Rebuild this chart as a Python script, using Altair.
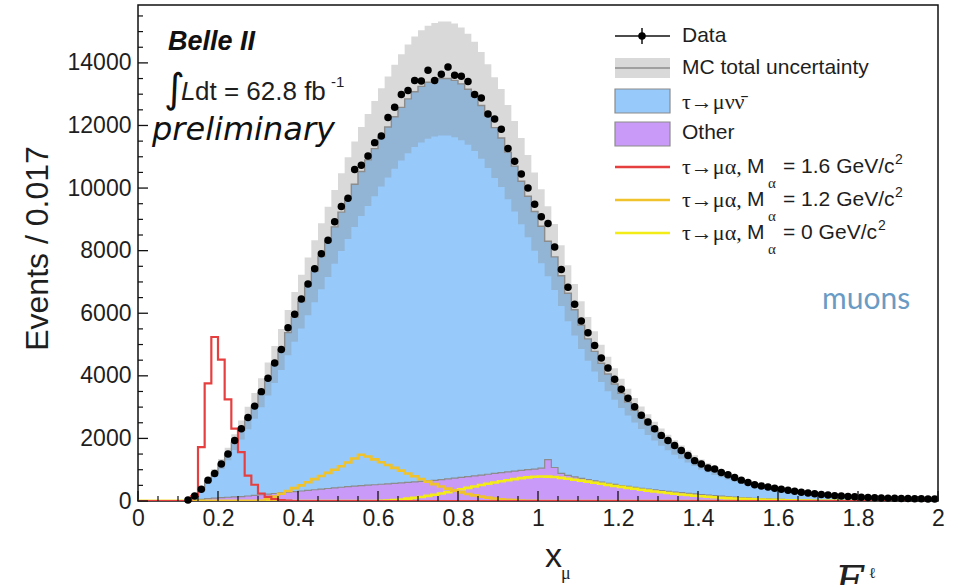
import altair as alt
import pandas as pd

# ---------------- data ----------------
N_BINS = 120            # 0 .. 2 in bins of 1/60 (~0.017)
BIN_W = 1.0 / 60.0

# Data points, bins 7..119
data_first = 7
data_counts = [30, 160, 377, 667, 880, 1183, 1505, 1935, 2312, 2667,
               3032, 3495, 3925, 4409, 4838, 5538, 5968, 6452, 6935, 7419,
               7903, 8333, 8925, 9409, 9677, 10591, 10731, 11022, 11452, 11667,
               12258, 12580, 12990, 13119, 13441, 13419, 13764, 13441, 13635, 13871,
               13602, 13570, 13409, 12990, 12881, 12365, 12204, 11881, 11268, 10860,
               10452, 10000, 9484, 9086, 8871, 8119, 7398, 6828, 6290, 5753,
               5376, 4968, 4570, 4247, 3892, 3570, 3280, 3011, 2742, 2527,
               2312, 2097, 1935, 1774, 1613, 1452, 1290, 1183, 1054, 1022,
               914, 839, 753, 667, 591, 516, 480, 445, 410, 375,
               340, 310, 280, 255, 232, 210, 190, 172, 158, 145,
               133, 122, 113, 105, 98, 92, 86, 81, 77, 73,
               70, 67, 64]

# MC total (tau->mu nu nu + other), bins 7..119
mc_first = 7
mc_total = [20, 150, 360, 640, 900, 1180, 1500, 1880, 2270, 2650,
            3040, 3460, 3900, 4360, 4840, 5380, 5880, 6370, 6860, 7340,
            7820, 8280, 8760, 9230, 9680, 10120, 10530, 10900, 11260, 11620,
            11950, 12280, 12580, 12850, 13080, 13250, 13380, 13460, 13500, 13500,
            13440, 13330, 13160, 12930, 12640, 12300, 11930, 11600, 11150, 10700,
            10220, 9740, 9250, 8780, 8300, 7800, 7200, 6640, 6110, 5620,
            5180, 4780, 4400, 4060, 3740, 3440, 3160, 2900, 2660, 2440,
            2230, 2040, 1870, 1710, 1560, 1420, 1290, 1170, 1060, 960,
            870, 790, 715, 645, 580, 520, 470, 425, 385, 350,
            315, 285, 258, 234, 212, 193, 176, 161, 147, 135,
            124, 115, 107, 100, 94, 88, 83, 79, 75, 72,
            69, 66, 64]

# MC total uncertainty (half width), bins 7..119
mc_unc = [3, 20, 50, 86, 120, 160, 200, 250, 305, 360,
          410, 465, 525, 590, 655, 725, 795, 860, 925, 990,
          1055, 1120, 1180, 1245, 1305, 1365, 1420, 1470, 1520, 1570,
          1615, 1660, 1700, 1735, 1765, 1790, 1805, 1815, 1820, 1820,
          1815, 1800, 1775, 1745, 1705, 1660, 1610, 1565, 1505, 1445,
          1380, 1315, 1250, 1185, 1120, 1055, 970, 895, 825, 760,
          700, 645, 595, 550, 505, 465, 425, 390, 360, 330,
          300, 275, 250, 230, 210, 190, 175, 160, 145, 130,
          115, 105, 95, 85, 80, 70, 65, 55, 50, 45,
          43, 38, 35, 32, 29, 26, 24, 22, 20, 18,
          17, 16, 14, 13, 13, 12, 11, 11, 10, 10,
          9, 9, 9]

# Other backgrounds, bins 8..111
other_first = 8
other = [20, 50, 75, 95, 110, 120, 130, 140, 160, 180,
         200, 220, 240, 260, 280, 300, 320, 340, 360, 380,
         400, 420, 440, 460, 475, 490, 505, 520, 535, 550,
         565, 580, 595, 610, 625, 640, 660, 680, 705, 730,
         755, 780, 805, 830, 855, 880, 905, 930, 955, 980,
         1000, 1020, 1050, 1320, 1070, 880, 820, 770, 720, 680,
         640, 600, 565, 530, 495, 465, 435, 405, 380, 355,
         330, 305, 285, 265, 245, 225, 205, 185, 170, 155,
         140, 125, 112, 100, 88, 77, 67, 58, 50, 42,
         36, 30, 25, 20, 16, 12, 9, 7, 5, 4,
         3, 2, 2, 1]

# Signals tau -> mu alpha
sig16_first = 8   # M = 1.6 GeV/c2
sig16 = [160, 1720, 3760, 5240, 4520, 3250, 2310, 1560, 810, 520,
         240, 130, 60, 30, 10]
sig12_first = 18  # M = 1.2 GeV/c2
sig12 = [10, 60, 140, 230, 320, 410, 500, 600, 700, 800,
         900, 1000, 1110, 1230, 1360, 1480, 1420, 1330, 1240, 1150,
         1060, 970, 880, 790, 700, 620, 540, 465, 395, 330,
         275, 225, 180, 140, 108, 80, 58, 40, 27, 17,
         10, 5]
sig0_first = 36   # M = 0 GeV/c2
sig0 = [5, 15, 30, 50, 75, 100, 130, 165, 200, 240,
        285, 330, 375, 420, 465, 510, 550, 590, 630, 665,
        700, 730, 755, 775, 785, 780, 765, 740, 710, 680,
        650, 620, 585, 550, 515, 480, 450, 420, 390, 360,
        330, 305, 280, 255, 230, 210, 190, 170, 152, 135,
        120, 106, 93, 82, 72, 63, 55, 48, 42, 36,
        30, 25, 20, 16, 12, 9, 7, 5, 3]

x_major = [0, 0.2, 0.4, 0.6, 0.8, 1, 1.2, 1.4, 1.6, 1.8, 2]
y_major = [0, 2000, 4000, 6000, 8000, 10000, 12000, 14000]

# ---------------- tables ----------------
def full(first, vals):
    out = [0] * N_BINS
    for k, v in enumerate(vals):
        out[first + k] = v
    return out

def ext(a):
    return a + [a[-1]]

mc_f = full(mc_first, mc_total)
unc_f = full(mc_first, mc_unc)
hist = pd.DataFrame({
    "edge": [i * BIN_W for i in range(N_BINS + 1)],
    "mc": ext(mc_f),
    "lo": ext([m - u for m, u in zip(mc_f, unc_f)]),
    "hi": ext([m + u for m, u in zip(mc_f, unc_f)]),
    "other": ext(full(other_first, other)),
    "s16": ext(full(sig16_first, sig16)),
    "s12": ext(full(sig12_first, sig12)),
    "s0": ext(full(sig0_first, sig0)),
})
pts = pd.DataFrame({
    "center": [(data_first + k + 0.5) * BIN_W for k in range(len(data_counts))],
    "count": data_counts,
})
x_minor = [round(k * 0.05, 2) for k in range(41) if k % 4]
y_minor = [k * 500 for k in range(32) if k % 4]
one = pd.DataFrame({"k": [0]})

# ---------------- style ----------------
SANS = "Liberation Sans"
SERIF = "Liberation Serif"
TXT = "#1e1e1e"
BLUE = "#97c9fa"
PURPLE = "#c99af7"
GRAY = "#8c8c8c"
HATCH = "#8a8a8a"
HATCH_OP = 0.32
RED = "#e5403f"
ORANGE = "#f0c22b"
YELLOW = "#f4ec16"
W, H = 800, 496

xs = alt.Scale(domain=[0, 2], nice=False, zero=False)
ys = alt.Scale(domain=[0, 15850], nice=False)
xax = alt.Axis(values=x_major, format="~g", ticks=False, domain=False, grid=False,
               labelFontSize=23, labelFont=SANS, labelColor=TXT, labelPadding=6,
               labelFlush=False, labelOverlap=False, title=None)
yax = alt.Axis(values=y_major, format="d", ticks=False, domain=False, grid=False,
               labelFontSize=23, labelFont=SANS, labelColor=TXT, labelPadding=7,
               labelFlush=False, labelOverlap=False,
               title="Events / 0.017", titleFont=SANS, titleFontSize=32,
               titleFontWeight="normal", titleColor=TXT, titleAngle=270,
               titleX=-101, titleY=243, titleAlign="center", titleBaseline="middle")

def X(f):
    return alt.X(f"{f}:Q", scale=xs, axis=xax)

def Y(f):
    return alt.Y(f"{f}:Q", scale=ys, axis=yax)

base = alt.Chart(hist)
blue = base.mark_area(color=BLUE, interpolate="step-after", clip=True).encode(x=X("edge"), y=Y("mc"))
purple = base.mark_area(color=PURPLE, interpolate="step-after", clip=True).encode(x=X("edge"), y=Y("other"))
band = base.mark_area(color=HATCH, opacity=HATCH_OP, interpolate="step-after", clip=True).encode(
    x=X("edge"), y=Y("lo"), y2=alt.Y2("hi"))
mc_line = base.mark_line(color=GRAY, strokeWidth=1.4, interpolate="step-after", clip=True).encode(x=X("edge"), y=Y("mc"))
oth_line = base.mark_line(color=GRAY, strokeWidth=1.2, interpolate="step-after", clip=True).encode(x=X("edge"), y=Y("other"))
l0 = base.mark_line(color=YELLOW, strokeWidth=2.6, interpolate="step-after", clip=True).encode(x=X("edge"), y=Y("s0"))
l12 = base.mark_line(color=ORANGE, strokeWidth=2.6, interpolate="step-after", clip=True).encode(x=X("edge"), y=Y("s12"))
l16 = base.mark_line(color=RED, strokeWidth=2.2, interpolate="step-after", clip=True).encode(x=X("edge"), y=Y("s16"))
dots = alt.Chart(pts).mark_circle(color="black", opacity=1, size=56).encode(x=X("center"), y=Y("count"))

xt_maj = alt.Chart(pd.DataFrame({"v": x_major})).mark_rule(color="#111", strokeWidth=1.3).encode(
    x=X("v"), y=alt.value(H), y2=alt.value(H - 10))
xt_min = alt.Chart(pd.DataFrame({"v": x_minor})).mark_rule(color="#111", strokeWidth=1.2).encode(
    x=X("v"), y=alt.value(H), y2=alt.value(H - 5))
yt_maj = alt.Chart(pd.DataFrame({"v": y_major})).mark_rule(color="#111", strokeWidth=1.3).encode(
    y=Y("v"), x=alt.value(0), x2=alt.value(10))
yt_min = alt.Chart(pd.DataFrame({"v": y_minor})).mark_rule(color="#111", strokeWidth=1.2).encode(
    y=Y("v"), x=alt.value(0), x2=alt.value(5))


def txt(s, x, y, size, font=SANS, style="normal", weight="normal", color=TXT,
        align="left", baseline="middle"):
    return alt.Chart(one).mark_text(text=s, font=font, fontSize=size, fontStyle=style,
                                    fontWeight=weight, color=color, align=align,
                                    baseline=baseline).encode(x=alt.value(x), y=alt.value(y))


def hrule(x1, x2, y, color, width):
    return alt.Chart(one).mark_rule(color=color, strokeWidth=width).encode(
        x=alt.value(x1), x2=alt.value(x2), y=alt.value(y))


def box(x1, x2, y1, y2, fill, stroke=None, opacity=1.0):
    kw = dict(fill=fill, opacity=opacity)
    if stroke:
        kw.update(stroke=stroke, strokeWidth=1.2)
    return alt.Chart(one).mark_rect(**kw).encode(
        x=alt.value(x1), x2=alt.value(x2), y=alt.value(y1), y2=alt.value(y2))


LX1, LX2, LT = 477, 532, 544
legend = [
    hrule(LX1, LX2, 31, "#111", 1.5),
    alt.Chart(one).mark_rule(color="#111", strokeWidth=1.5).encode(
        x=alt.value(504), y=alt.value(23), y2=alt.value(39)),
    alt.Chart(one).mark_circle(color="black", opacity=1, size=56).encode(x=alt.value(504), y=alt.value(31)),
    txt("Data", LT, 31, 21),
    box(LX1, LX2, 53, 73, HATCH, opacity=HATCH_OP),
    hrule(LX1, LX2, 63, GRAY, 1.4),
    txt("MC total uncertainty", LT, 63, 21),
    box(LX1, LX2, 84, 108, BLUE, stroke=GRAY),
    txt("τ→μνν\u0304", LT, 97, 22, font=SERIF),
    box(LX1, LX2, 117, 141, PURPLE, stroke=GRAY),
    txt("Other", LT, 128, 21),
]
for yc, col, val, sup_x in [(162, RED, "1.6", 757), (195, ORANGE, "1.2", 757), (228, YELLOW, "0", 740)]:
    legend += [
        hrule(LX1, LX2, yc, col, 2.4),
        txt("τ→μα,", LT, yc, 22, font=SERIF),
        txt("M", 609, yc, 21),
        txt("α", 630, yc + 16, 15, font=SERIF),
        txt(f"= {val} GeV/c", 645, yc, 21),
        txt("2", sup_x, yc - 7, 14),
    ]

annot = [
    txt("Belle II", 30, 37, 27, style="italic", weight="bold", color="#111"),
    txt("∫", 26, 85, 40, font="DejaVu Sans", color="#111"),
    txt("L", 43, 87, 26, style="italic"),
    txt("dt = 62.8 fb", 57, 87, 26),
    txt("-1", 193, 77, 15),
    txt("preliminary", 14, 125, 32, font="DejaVu Sans", style="italic", color="#111"),
    txt("muons", 684, 295, 30, font="Lato", color="#6a9bc4"),
    txt("x", 407, 552, 34),
    txt("μ", 423, 569, 18, font=SERIF),
    txt("E", 712, 591, 42, font="DejaVu Serif", style="italic", color="#222", align="center",
        baseline="alphabetic"),
    txt("ℓ", 731, 568, 15, font="DejaVu Serif", color="#222"),
]

chart = alt.layer(
    blue, purple, band, mc_line, oth_line, l0, l12, l16, dots,
    xt_maj, xt_min, yt_maj, yt_min, *legend, *annot
).properties(
    width=W, height=H,
    padding={"left": 138, "top": 5, "right": 22, "bottom": 84},
    autosize=alt.AutoSizeParams(type="none"),
    background="white",
).configure_view(stroke="#111", strokeWidth=1.5)

chart.save("out.html", embed_options={"renderer": "svg", "actions": False})
